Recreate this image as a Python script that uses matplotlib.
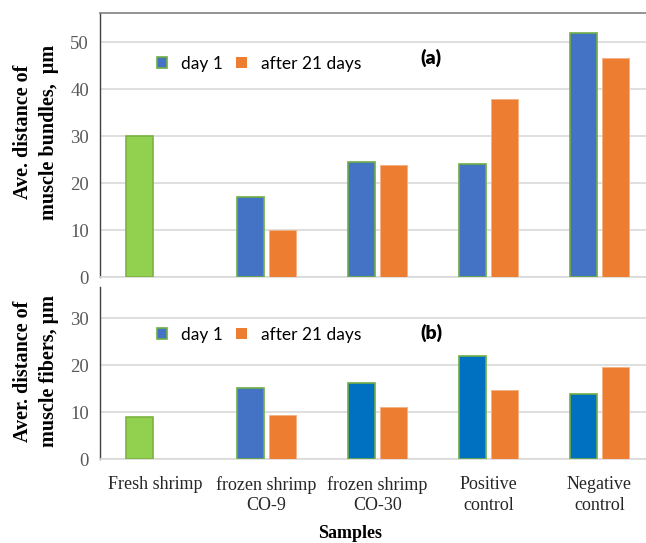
import numpy as np
import matplotlib
matplotlib.use('Agg')
from matplotlib import pyplot as plt
from matplotlib.patches import Patch

samples = ['Fresh shrimp', 'frozen shrimp\nCO-9', 'frozen shrimp\nCO-30', 'Positive\ncontrol', 'Negative\ncontrol']
bundles_day1 = [30, 17, 24.4, 24.0, 51.9]
bundles_day21 = [np.nan, 10, 23.9, 37.9, 46.6]
fibers_day1 = [8.9, 15.1, 16.2, 21.9, 13.8]
fibers_day21 = [np.nan, 9.4, 11.0, 14.7, 19.6]

GREEN = '#92D050'
BLUE = '#4472C4'
BLUE2 = '#0070C0'
ORANGE = '#ED7D31'
EDGE = '#70AD47'
GRID = '#D9D9D9'

plt.rcParams['font.family'] = ['Liberation Serif', 'DejaVu Serif']

fig = plt.figure(figsize=(6.46, 5.43), dpi=100)
W, H = 646, 543

def axes_px(left, top, right, bottom):
    return fig.add_axes([left / W, 1 - bottom / H, (right - left) / W, (bottom - top) / H])

ax1 = axes_px(100, 13, 655, 277)
ax2 = axes_px(100, 287, 655, 459)

x = np.arange(len(samples))
bw = 0.24
off = 0.145

c1_top = [GREEN] + [BLUE] * 4
c1_bot = [GREEN, BLUE, BLUE2, BLUE2, BLUE2]
e1 = ['#7CB342'] + [EDGE] * 4

ax1.bar(x - off, bundles_day1, bw, color=c1_top, edgecolor=e1, linewidth=1.2, zorder=3)
ax1.bar(x + off, bundles_day21, bw, color=ORANGE, edgecolor='#F4B183', linewidth=0.6, zorder=3)
ax2.bar(x - off, fibers_day1, bw, color=c1_bot, edgecolor=e1, linewidth=1.2, zorder=3)
ax2.bar(x + off, fibers_day21, bw, color=ORANGE, edgecolor='#F4B183', linewidth=0.6, zorder=3)

ax1.set_ylim(0, 56.2)
ax1.set_yticks([0, 10, 20, 30, 40, 50])
ax2.set_ylim(0, 36.6)
ax2.set_yticks([0, 10, 20, 30])

for ax in (ax1, ax2):
    ax.set_xlim(-0.5, len(samples) - 0.5)
    ax.yaxis.grid(True, color=GRID, linewidth=1.2, zorder=0)
    ax.set_axisbelow(True)
    ax.spines['right'].set_visible(False)
    ax.spines['bottom'].set_color(GRID)
    ax.spines['bottom'].set_linewidth(1.2)
    ax.spines['left'].set_color('#404040')
    ax.spines['left'].set_linewidth(1.0)
    ax.tick_params(axis='y', length=0, pad=8, labelsize=13.5, labelcolor='#595959')
    ax.tick_params(axis='x', length=0)

ax1.spines['top'].set_color('#808080')
ax1.spines['top'].set_linewidth(1.2)
ax2.spines['top'].set_visible(False)
ax1.set_xticks(x)
ax1.set_xticklabels([])
ax2.set_xticks(x)
ax2.set_xticklabels(samples, fontsize=13, color='#262626', linespacing=1.3)
ax2.tick_params(axis='x', pad=12)

fig.text(36 / W, 1 - 132 / H, 'Ave. distance of\nmuscle bundles,  μm', rotation=90,
         ha='center', va='center', fontsize=14.5, fontweight='bold', linespacing=1.35)
fig.text(36 / W, 1 - 371 / H, 'Aver. distance of\nmuscle fibers, μm', rotation=90,
         ha='center', va='center', fontsize=14.5, fontweight='bold', linespacing=1.35)
fig.text(350 / W, 1 - 533 / H, 'Samples', ha='center', va='center', fontsize=13, fontweight='bold')

handles = [Patch(facecolor=BLUE, edgecolor=EDGE, linewidth=1.2), Patch(facecolor=ORANGE)]
for ax, yc, tag, ty in ((ax1, 64, '(a)', 58), (ax2, 335, '(b)', 333)):
    ax.legend(handles, ['day 1', 'after 21 days'], ncol=2, frameon=False,
              loc='center left', bbox_to_anchor=(157 / W, 1 - yc / H),
              bbox_transform=fig.transFigure, prop={'family': 'Lato', 'size': 12.5},
              handlelength=0.6, handleheight=0.6, handletextpad=0.8,
              columnspacing=0.75, borderpad=0, borderaxespad=0)
    fig.text(431 / W, 1 - ty / H, tag, ha='center', va='center',
             fontsize=14, fontweight='heavy', family='Lato')

fig.savefig('out.png', dpi=100)
